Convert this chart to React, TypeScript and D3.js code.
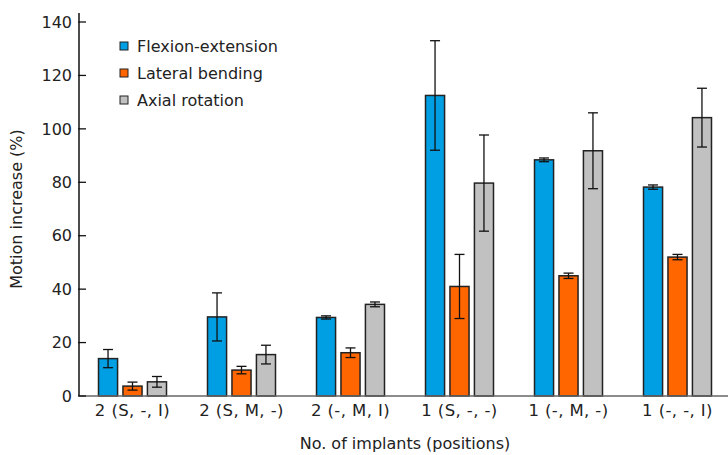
import * as d3 from "d3";

const width = 728;
const height = 455;

const categories = ["2 (S, -, I)", "2 (S, M, -)", "2 (-, M, I)", "1 (S, -, -)", "1 (-, M, -)", "1 (-, -, I)"];
const seriesNames = ["Flexion-extension", "Lateral bending", "Axial rotation"];
const colors = ["#009fe3", "#ff6600", "#c0c1c0"];

const flexion = [14, 29.6, 29.4, 112.5, 88.4, 78.2];
const flexionErr = [3.4, 9, 0.6, 20.5, 0.7, 0.8];
const lateral = [3.7, 9.7, 16.2, 41, 45, 52];
const lateralErr = [1.5, 1.4, 1.8, 12, 1, 1];
const axial = [5.3, 15.5, 34.3, 79.7, 91.8, 104.2];
const axialErr = [2, 3.5, 0.9, 18, 14.2, 11];

const yTicks = [0, 20, 40, 60, 80, 100, 120, 140];

const values = [flexion, lateral, axial];
const errors = [flexionErr, lateralErr, axialErr];

const margin = { left: 79, top: 22, bottom: 396 };

const x = d3.scaleBand<string>().domain(categories).range([78, 732]);
const inner = d3.scaleBand<number>().domain([0, 1, 2]).range([-34, 34]).paddingInner(0.22);
const y = d3.scaleLinear().domain([0, 140]).range([margin.bottom, margin.top]);

const font = "'DejaVu Sans', Verdana, sans-serif";

export default function App() {
  return (
    <svg width={width} height={height} style={{ position: "absolute", left: 0, top: 0, background: "#fff" }} fontFamily={font}>
      {/* bars */}
      {categories.map((c, i) => {
        const cx = x(c)! + x.bandwidth() / 2;
        return (
          <g key={c}>
            {values.map((vals, s) => {
              const bx = cx + inner(s)!;
              const bw = inner.bandwidth();
              const v = vals[i];
              const e = errors[s][i];
              const mid = bx + bw / 2;
              return (
                <g key={s}>
                  <rect x={bx} y={y(v)} width={bw} height={y(0) - y(v)} fill={colors[s]} stroke="#222" strokeWidth={1.5} />
                  <line x1={mid} x2={mid} y1={y(v + e)} y2={y(v - e)} stroke="#111" strokeWidth={1.3} />
                  <line x1={mid - 5} x2={mid + 5} y1={y(v + e)} y2={y(v + e)} stroke="#111" strokeWidth={1.3} />
                  <line x1={mid - 5} x2={mid + 5} y1={y(v - e)} y2={y(v - e)} stroke="#111" strokeWidth={1.3} />
                </g>
              );
            })}
          </g>
        );
      })}

      {/* x axis */}
      <line x1={margin.left} x2={width} y1={y(0)} y2={y(0)} stroke="#666" strokeWidth={1.5} />
      {categories.map((c) => (
        <text key={c} x={x(c)! + x.bandwidth() / 2} y={416} textAnchor="middle" fontSize={16.5} letterSpacing={0.4} fill="#222">
          {c}
        </text>
      ))}
      <text x={405} y={449} textAnchor="middle" fontSize={16} fill="#222">
        No. of implants (positions)
      </text>

      {/* y axis */}
      <line x1={margin.left} x2={margin.left} y1={13} y2={y(0)} stroke="#111" strokeWidth={1.5} />
      {yTicks.map((t) => (
        <g key={t}>
          <line x1={margin.left - 1} x2={margin.left + 7} y1={y(t)} y2={y(t)} stroke="#111" strokeWidth={1.3} />
          <text x={72} y={y(t)} dy="0.36em" textAnchor="end" fontSize={16} fill="#222">
            {t}
          </text>
        </g>
      ))}
      <text transform={`translate(22,${(y(0) + y(140)) / 2}) rotate(-90)`} textAnchor="middle" fontSize={16} fill="#222">
        Motion increase (%)
      </text>

      {/* legend */}
      {seriesNames.map((n, i) => (
        <g key={n} transform={`translate(120,${46 + i * 27})`}>
          <rect x={0} y={-4} width={8} height={8} fill={colors[i]} stroke="#222" strokeWidth={1} />
          <text x={17} y={0} dy="0.36em" fontSize={16} fill="#222">
            {n}
          </text>
        </g>
      ))}
    </svg>
  );
}
